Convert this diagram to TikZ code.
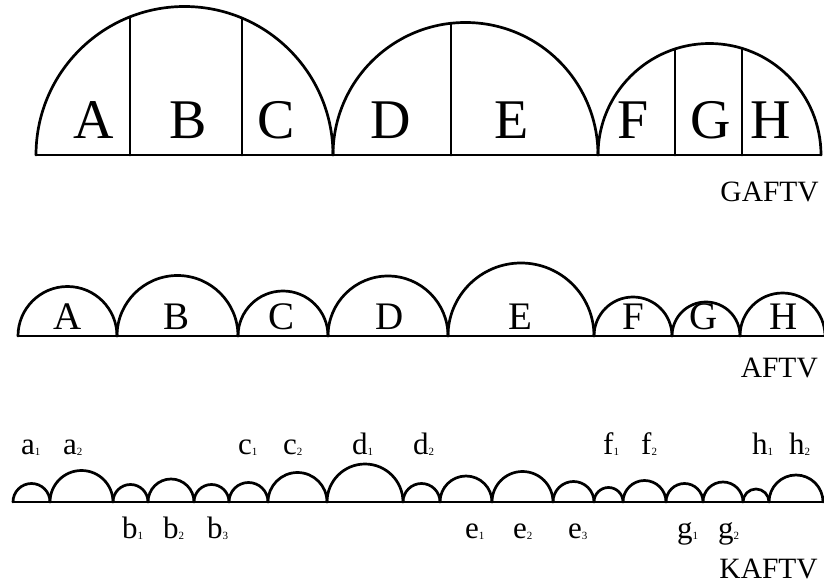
\documentclass[tikz,border=0pt]{standalone}
\usepackage{fontspec}
\setmainfont{Liberation Serif}
\newcommand{\sublab}[2]{#1{\fontsize{11}{11}\selectfont\raisebox{-1pt}{#2}}}
\tikzset{
  shape line/.style={line width=2.7pt, line join=round, line cap=round},
  bigletter/.style={anchor=base, inner sep=0pt, font=\fontsize{56}{56}\selectfont},
  midletter/.style={anchor=base, inner sep=0pt, font=\fontsize{39}{39}\selectfont},
  rowtitle/.style={anchor=base east, inner sep=0pt, font=\fontsize{29.5}{29.5}\selectfont},
  sublabel/.style={anchor=base west, inner sep=0pt, font=\fontsize{31}{31}\selectfont},
}
\begin{document}
\begin{tikzpicture}[x=1pt,y=1pt]
\useasboundingbox (0,0) rectangle (824,587);
% ---------- GAFTV (top row) ----------
\draw[shape line] (36,432) -- (821,432);
\draw[shape line] (36,432) arc[start angle=180,end angle=0,radius=148.5];
\draw[shape line] (333,432) arc[start angle=180,end angle=0,radius=132.5];
\draw[shape line] (598,432) arc[start angle=180,end angle=0,radius=111.5];
\draw[shape line] (130,432) -- ++(0,138.1);
\draw[shape line] (242,432) -- ++(0,136.9);
\draw[shape line] (451,432) -- ++(0,131.7);
\draw[shape line] (675,432) -- ++(0,106.0);
\draw[shape line] (742,432) -- ++(0,106.7);
\node[bigletter] (tA) at (94,448) {A};
\node[bigletter] (tB) at (188,448) {B};
\node[bigletter] (tC) at (276,448) {C};
\node[bigletter] (tD) at (391,448) {D};
\node[bigletter] (tE) at (512,448) {E};
\node[bigletter] (tF) at (633,448) {F};
\node[bigletter] (tG) at (711,448) {G};
\node[bigletter] (tH) at (771,448) {H};
\node[rowtitle] (gaftv) at (819,385) {GAFTV};
% ---------- AFTV (middle row) ----------
\draw[shape line] (18,251) -- (824,251);
\draw[shape line] (18,251) arc[start angle=180,end angle=0,radius=49.5];
\draw[shape line] (117,251) arc[start angle=180,end angle=0,radius=60.5];
\draw[shape line] (238,251) arc[start angle=180,end angle=0,radius=45];
\draw[shape line] (328,251) arc[start angle=180,end angle=0,radius=60];
\draw[shape line] (448,251) arc[start angle=180,end angle=0,radius=73];
\draw[shape line] (594,251) arc[start angle=180,end angle=0,radius=39];
\draw[shape line] (672,251) arc[start angle=180,end angle=0,radius=34];
\draw[shape line] (740,251) arc[start angle=180,end angle=0,x radius=42.5,y radius=43];
\node[midletter] (mA) at (68,258) {A};
\node[midletter] (mB) at (177,258) {B};
\node[midletter] (mC) at (282,258) {C};
\node[midletter] (mD) at (390,258) {D};
\node[midletter] (mE) at (520,258) {E};
\node[midletter] (mF) at (633,258) {F};
\node[midletter] (mG) at (704,258) {G};
\node[midletter] (mH) at (784,258) {H};
\node[rowtitle] (aftv) at (818,210) {AFTV};
% ---------- KAFTV (bottom row) ----------
\draw[shape line] (13,85) -- (823,85);
\foreach \l/\r in {13/50,50/113,113/148,148/194,194/229,229/268,268/327,327/403,
                   403/440,440/492,492/553,553/594,594/623,623/666,666/703,703/743,743/769,769/823}{
  \draw[shape line] (\l,85) arc[start angle=180,end angle=0,radius={(\r-\l)/2}];
}
\node[sublabel] (a1) at (21,133) {\sublab{a}{1}};
\node[sublabel] (a2) at (63,133) {\sublab{a}{2}};
\node[sublabel] (c1) at (238,133) {\sublab{c}{1}};
\node[sublabel] (c2) at (283,133) {\sublab{c}{2}};
\node[sublabel] (d1) at (352,133) {\sublab{d}{1}};
\node[sublabel] (d2) at (413,133) {\sublab{d}{2}};
\node[sublabel] (f1) at (603,133) {\sublab{f}{1}};
\node[sublabel] (f2) at (641,133) {\sublab{f}{2}};
\node[sublabel] (h1) at (752,133) {\sublab{h}{1}};
\node[sublabel] (h2) at (789,133) {\sublab{h}{2}};
\node[sublabel] (b1) at (122,49) {\sublab{b}{1}};
\node[sublabel] (b2) at (163,49) {\sublab{b}{2}};
\node[sublabel] (b3) at (207,49) {\sublab{b}{3}};
\node[sublabel] (e1) at (465,49) {\sublab{e}{1}};
\node[sublabel] (e2) at (513,49) {\sublab{e}{2}};
\node[sublabel] (e3) at (568,49) {\sublab{e}{3}};
\node[sublabel] (g1) at (677,49) {\sublab{g}{1}};
\node[sublabel] (g2) at (718,49) {\sublab{g}{2}};
\node[rowtitle] (kaftv) at (818,9) {KAFTV};
\end{tikzpicture}
\end{document}
